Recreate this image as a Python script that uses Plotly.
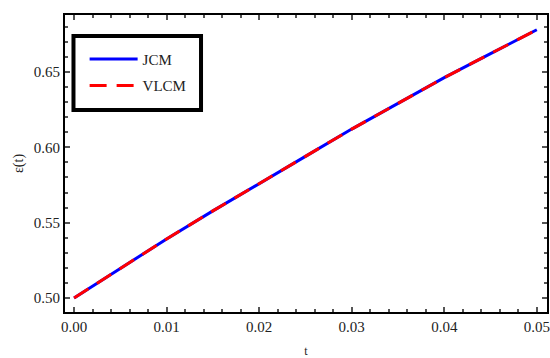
import plotly.graph_objects as go

t_vals = [0.0, 0.005, 0.01, 0.015, 0.02, 0.025, 0.03, 0.035, 0.04, 0.045, 0.05]
jcm_vals = [0.500, 0.5197, 0.5392, 0.5578, 0.5757, 0.5940, 0.6121, 0.6292, 0.6462, 0.6622, 0.6780]
vlcm_vals = [0.500, 0.5197, 0.5392, 0.5578, 0.5757, 0.5940, 0.6121, 0.6292, 0.6462, 0.6622, 0.6780]
x_ticks = [0.0, 0.01, 0.02, 0.03, 0.04, 0.05]
x_tick_labels = ["0.00", "0.01", "0.02", "0.03", "0.04", "0.05"]
y_ticks = [0.50, 0.55, 0.60, 0.65]
y_tick_labels = ["0.50", "0.55", "0.60", "0.65"]

FONT = "Liberation Serif"

fig = go.Figure()
fig.add_trace(go.Scatter(x=t_vals, y=jcm_vals, mode="lines", name="JCM",
                         line=dict(color="#0000ff", width=3), legendgroup="a"))
fig.add_trace(go.Scatter(x=t_vals, y=vlcm_vals, mode="lines", name="VLCM",
                         line=dict(color="#ff0000", width=3, dash="17px,10px"), legendgroup="b"))

axis_common = dict(
    showline=True, linecolor="black", linewidth=2, mirror="ticks",
    ticks="inside", ticklen=5, tickwidth=1.5, tickcolor="#555",
    showgrid=False, zeroline=False, automargin=False,
    tickfont=dict(family=FONT, size=15, color="#222"),
)

fig.update_xaxes(
    range=[-0.00098, 0.0511], tickvals=x_ticks, ticktext=x_tick_labels,
    minor=dict(dtick=0.002, ticks="inside", ticklen=3, tickcolor="#555", tickwidth=1.5, showgrid=False),
    title=dict(text="t", font=dict(family=FONT, size=12, color="#222"), standoff=28),
    **axis_common,
)
fig.update_yaxes(
    range=[0.4907, 0.6878], tickvals=y_ticks, ticktext=y_tick_labels,
    minor=dict(dtick=0.01, ticks="inside", ticklen=3, tickcolor="#555", tickwidth=1.5, showgrid=False),
    title=dict(text="ε(t)", font=dict(family=FONT, size=14, color="#222"), standoff=7),
    **axis_common,
)

# legend frame drawn as a shape so its padding matches the reference
fig.add_shape(type="rect", xref="paper", yref="paper",
              x0=0.0176, x1=0.2822, y0=0.6801, y1=0.9293,
              line=dict(color="black", width=4), fillcolor="rgba(0,0,0,0)", layer="above")

fig.update_layout(
    width=550, height=358,
    margin=dict(l=65, r=3, t=15, b=46),
    plot_bgcolor="white", paper_bgcolor="white",
    showlegend=True,
    legend=dict(
        x=0.0407, y=0.9067, xanchor="left", yanchor="top",
        borderwidth=0, bgcolor="rgba(0,0,0,0)",
        font=dict(family=FONT, size=15, color="#222"),
        tracegroupgap=4, itemwidth=48,
    ),
)

fig.write_html("out.html", config={"displayModeBar": False},
               post_script="document.body.style.margin='0';document.body.style.overflow='hidden';")
